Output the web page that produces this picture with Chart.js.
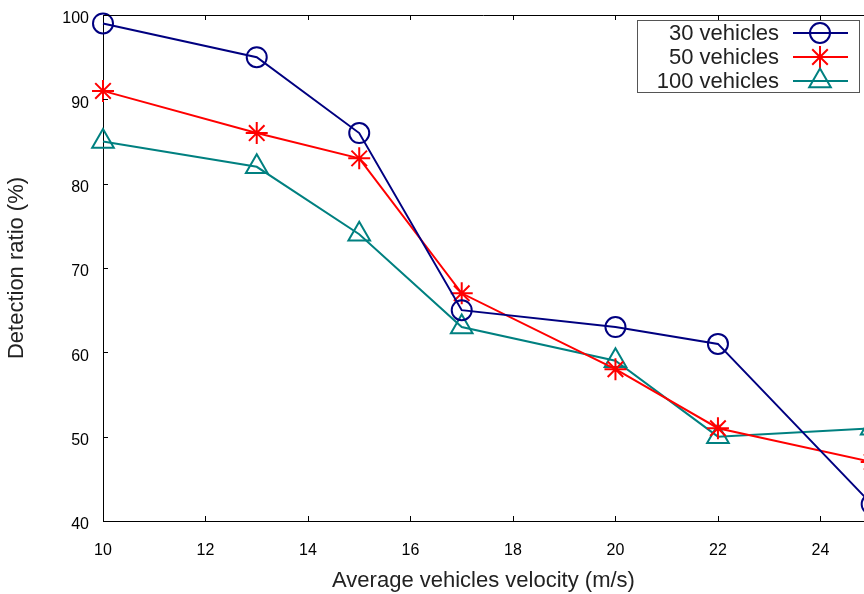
<!DOCTYPE html>
<html>
<head>
<meta charset="utf-8">
<script src="https://cdn.jsdelivr.net/npm/chart.js@4"></script>
<style>
  body { margin: 0; background: #fff; }
  #box { width: 864px; height: 594px; }
</style>
</head>
<body>
<div id="box"><canvas id="myChart"></canvas></div>
<script>
const velocities = [10, 13, 15, 17, 20, 22, 25]
const labels = ['30 vehicles', '50 vehicles', '100 vehicles']
const ratio30 = [99, 95, 86, 65, 63, 61, 42]
const ratio50 = [91, 86, 83, 67, 58, 51, 47]
const ratio100 = [85, 82, 74, 63, 59, 50, 51]
const xTicks = [10, 12, 14, 16, 18, 20, 22, 24]
const yTicks = [40, 50, 60, 70, 80, 90, 100]

const FONT = "'Liberation Sans', Arial, sans-serif"

const toPoints = (vals) => vals.map((v, i) => ({ x: velocities[i], y: v }))

const series = [
  { data: ratio30, color: '#000080', style: 'circle', radius: 10 },
  { data: ratio50, color: '#ff0000', style: 'star', radius: 11 },
  { data: ratio100, color: '#008080', style: 'triangle', radius: 12.5 }
]

// frame on top + ticks pointing inwards, like gnuplot
const framePlugin = {
  id: 'frame',
  afterDatasetsDraw(chart) {
    const { ctx, chartArea: a, scales } = chart
    ctx.save()
    ctx.strokeStyle = '#000'
    ctx.lineWidth = 1
    ctx.beginPath()
    ctx.moveTo(a.left, a.top + 0.5)
    ctx.lineTo(a.right, a.top + 0.5)
    xTicks.forEach(t => {
      const x = Math.round(scales.x.getPixelForValue(t)) + 0.5
      ctx.moveTo(x, a.bottom)
      ctx.lineTo(x, a.bottom - 5)
      ctx.moveTo(x, a.top)
      ctx.lineTo(x, a.top + 5)
    })
    yTicks.forEach(t => {
      const y = Math.round(scales.y.getPixelForValue(t)) + 0.5
      ctx.moveTo(a.left, y)
      ctx.lineTo(a.left + 5, y)
    })
    ctx.stroke()
    ctx.restore()
  }
}

// legend box: text on the left, sample on the right
const legendPlugin = {
  id: 'gpLegend',
  afterDraw(chart) {
    const ctx = chart.ctx
    const bx = 637, by = 20, bw = 222, bh = 72
    ctx.save()
    ctx.fillStyle = '#fff'
    ctx.fillRect(bx, by, bw, bh)
    ctx.strokeStyle = '#555'
    ctx.lineWidth = 1
    ctx.strokeRect(bx + 0.5, by + 0.5, bw, bh)
    ctx.font = '22px ' + FONT
    ctx.textAlign = 'right'
    ctx.textBaseline = 'middle'
    series.forEach((s, i) => {
      const y = by + 13 + i * 24
      ctx.fillStyle = '#222'
      ctx.fillText(labels[i], 779, y + 1)
      ctx.strokeStyle = s.color
      ctx.lineWidth = 2
      ctx.beginPath()
      ctx.moveTo(793, y)
      ctx.lineTo(848, y)
      ctx.stroke()
      ctx.fillStyle = 'rgba(0,0,0,0)'
      Chart.helpers.drawPoint(ctx, { pointStyle: s.style, radius: s.radius, borderWidth: 2 }, 820, y)
    })
    ctx.restore()
  }
}

const ctx = document.getElementById('myChart').getContext('2d')
new Chart(ctx, {
  type: 'line',
  data: {
    datasets: series.map((s, i) => ({
      label: labels[i],
      data: toPoints(s.data),
      borderColor: s.color,
      backgroundColor: 'transparent',
      borderWidth: 2,
      pointStyle: s.style,
      pointRadius: s.radius,
      pointBorderWidth: 2,
      pointBorderColor: s.color,
      pointBackgroundColor: 'transparent',
      tension: 0,
      clip: false
    }))
  },
  options: {
    responsive: true,
    maintainAspectRatio: false,
    animation: false,
    layout: { autoPadding: false, padding: { top: 15, right: 0, left: 0, bottom: 0 } },
    plugins: {
      legend: { display: false },
      tooltip: { enabled: false }
    },
    scales: {
      x: {
        type: 'linear',
        min: 10,
        max: 24.85,
        afterBuildTicks: (s) => { s.ticks = xTicks.map(v => ({ value: v })) },
        afterFit: (s) => { s.height = 73; s.paddingLeft = 0; s.paddingRight = 0 },
        grid: { display: false, drawTicks: false },
        border: { display: true, color: '#000', width: 1 },
        ticks: { color: '#000', padding: 20, font: { family: FONT, size: 16 } },
        title: {
          display: true,
          text: 'Average vehicles velocity (m/s)',
          color: '#222',
          font: { family: FONT, size: 22 },
          padding: { top: 0, bottom: 0 }
        }
      },
      y: {
        min: 40,
        max: 100,
        afterBuildTicks: (s) => { s.ticks = yTicks.map(v => ({ value: v })) },
        afterFit: (s) => { s.width = 103; s.paddingTop = 0; s.paddingBottom = 0 },
        grid: { display: false, drawTicks: false },
        border: { display: true, color: '#000', width: 1 },
        ticks: { color: '#000', padding: 14, labelOffset: 4, font: { family: FONT, size: 16 } },
        title: {
          display: true,
          text: 'Detection ratio (%)',
          color: '#222',
          font: { family: FONT, size: 22 },
          padding: { top: 4, bottom: 0 }
        }
      }
    }
  },
  plugins: [framePlugin, legendPlugin]
})
</script>
</body>
</html>
